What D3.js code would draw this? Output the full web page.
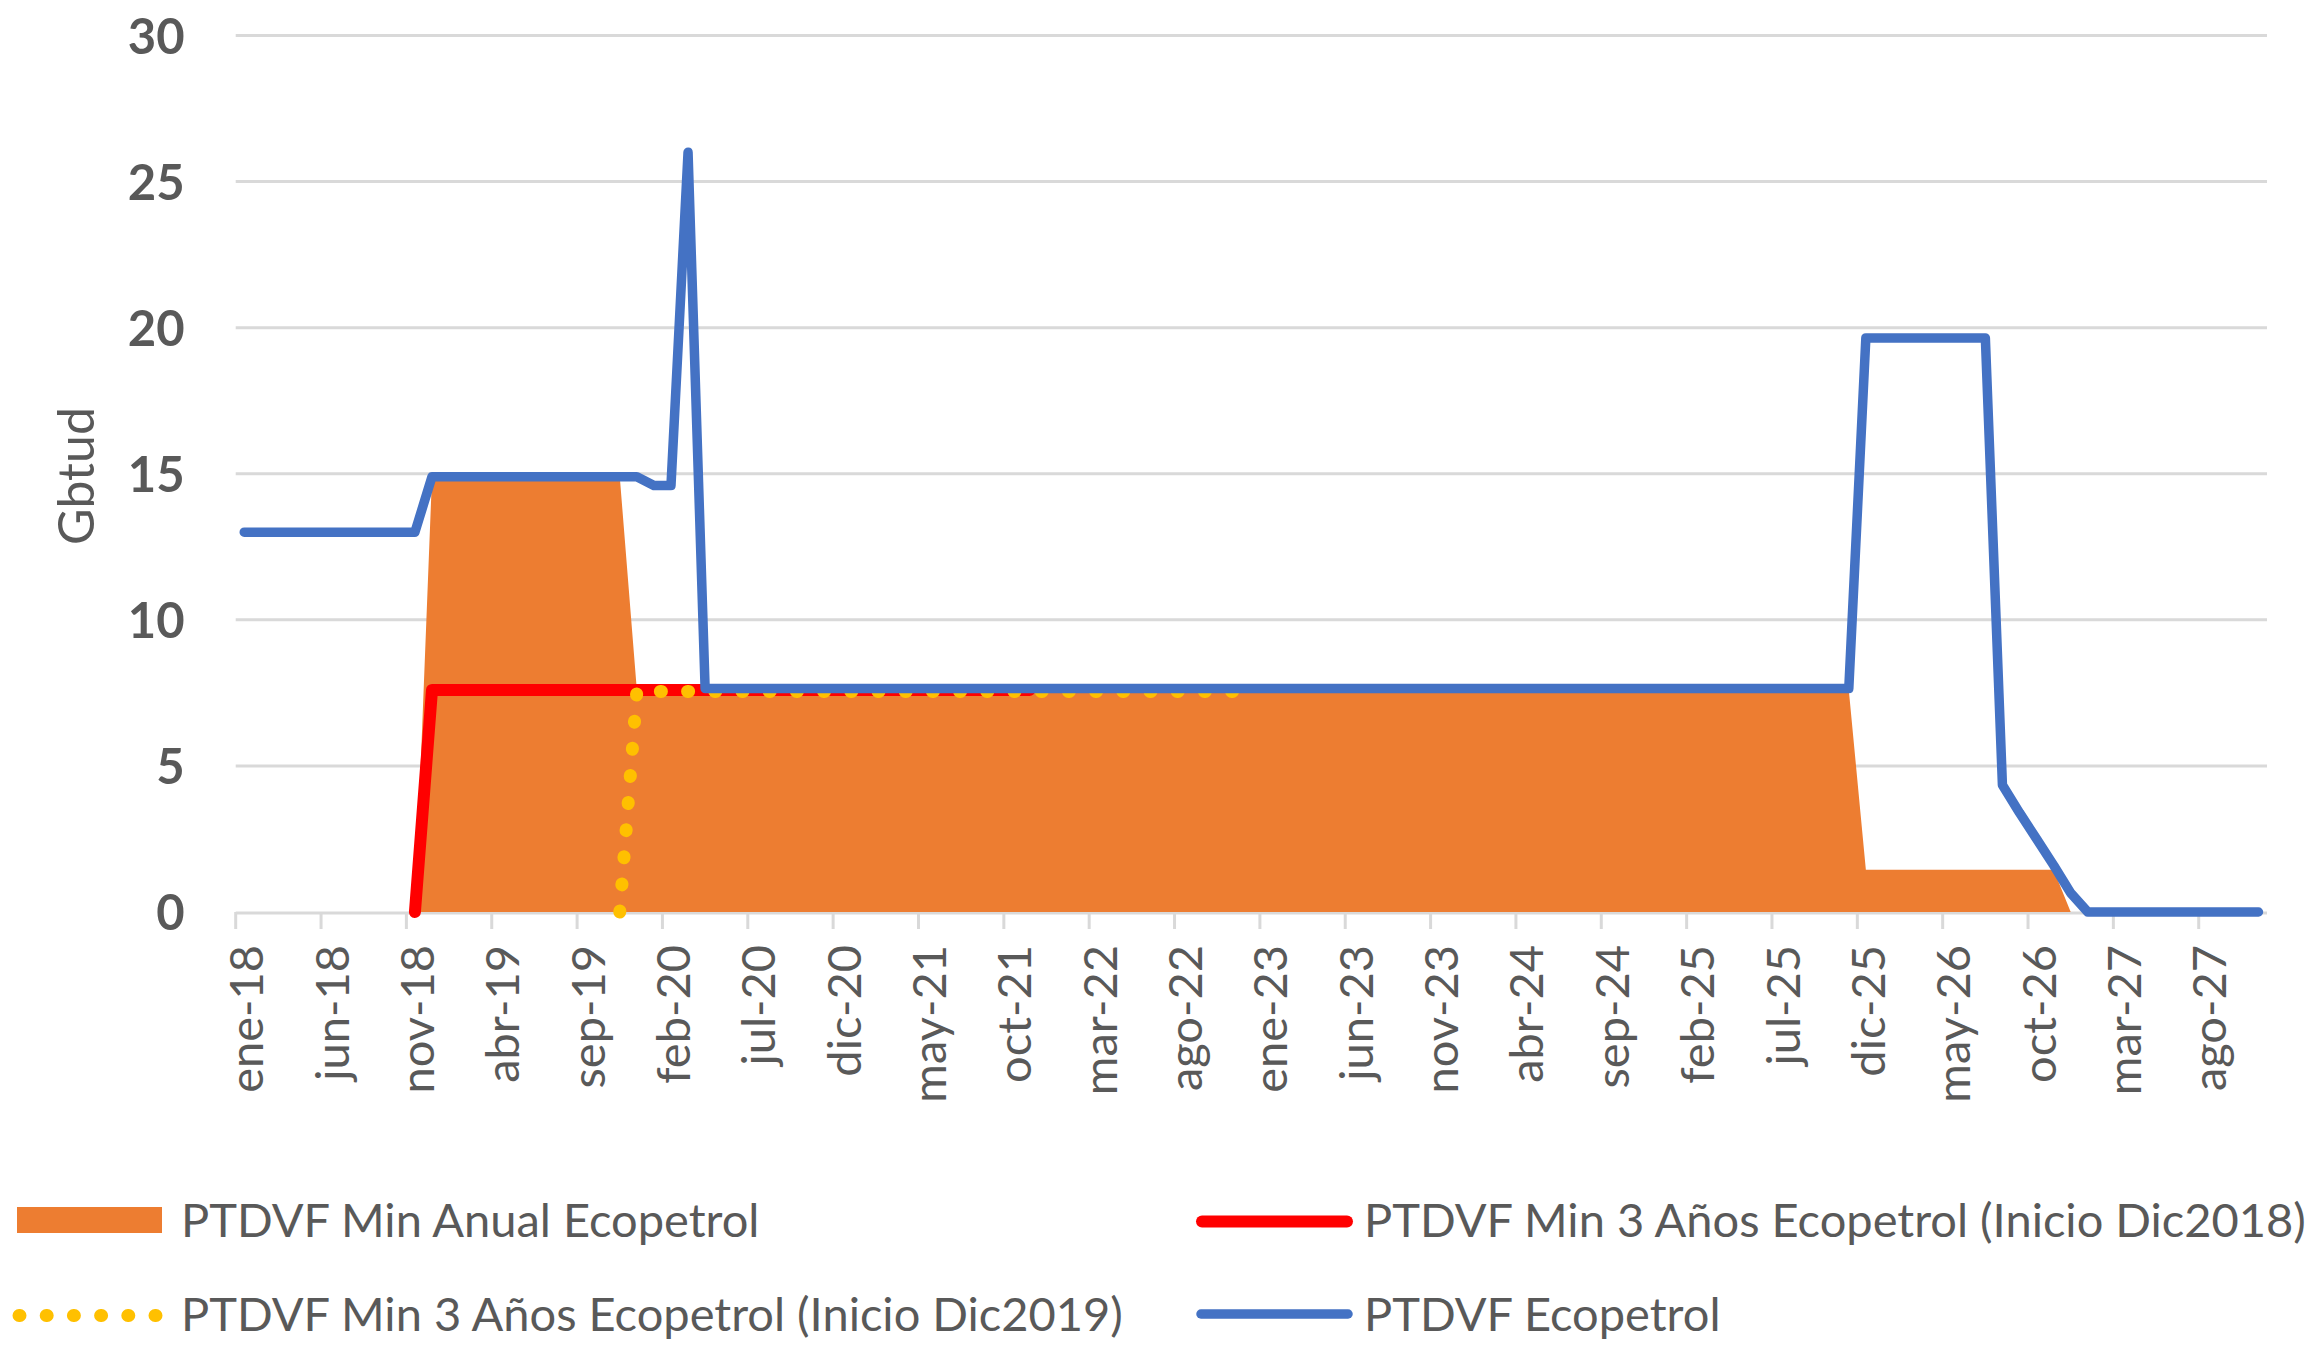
<!DOCTYPE html>
<html><head><meta charset="utf-8">
<script src="https://cdn.jsdelivr.net/npm/d3@7"></script>
<style>
html,body{margin:0;padding:0;background:#fff;}
svg{display:block;background:#fff;}
</style></head>
<body>
<svg id="chart" width="2306" height="1346"></svg>
<script>
// ---------- DATA ----------
const categories = [
 "ene-18","feb-18","mar-18","abr-18","may-18","jun-18","jul-18","ago-18","sep-18","oct-18","nov-18","dic-18",
 "ene-19","feb-19","mar-19","abr-19","may-19","jun-19","jul-19","ago-19","sep-19","oct-19","nov-19","dic-19",
 "ene-20","feb-20","mar-20","abr-20","may-20","jun-20","jul-20","ago-20","sep-20","oct-20","nov-20","dic-20",
 "ene-21","feb-21","mar-21","abr-21","may-21","jun-21","jul-21","ago-21","sep-21","oct-21","nov-21","dic-21",
 "ene-22","feb-22","mar-22","abr-22","may-22","jun-22","jul-22","ago-22","sep-22","oct-22","nov-22","dic-22",
 "ene-23","feb-23","mar-23","abr-23","may-23","jun-23","jul-23","ago-23","sep-23","oct-23","nov-23","dic-23",
 "ene-24","feb-24","mar-24","abr-24","may-24","jun-24","jul-24","ago-24","sep-24","oct-24","nov-24","dic-24",
 "ene-25","feb-25","mar-25","abr-25","may-25","jun-25","jul-25","ago-25","sep-25","oct-25","nov-25","dic-25",
 "ene-26","feb-26","mar-26","abr-26","may-26","jun-26","jul-26","ago-26","sep-26","oct-26","nov-26","dic-26",
 "ene-27","feb-27","mar-27","abr-27","may-27","jun-27","jul-27","ago-27","sep-27","oct-27","nov-27"
];

const tickLabels = ["ene-18","jun-18","nov-18","abr-19","sep-19","feb-20","jul-20","dic-20","may-21","oct-21",
 "mar-22","ago-22","ene-23","jun-23","nov-23","abr-24","sep-24","feb-25","jul-25","dic-25","may-26","oct-26",
 "mar-27","ago-27"];

const yTicks = [0, 5, 10, 15, 20, 25, 30];

const seriesNames = [
 "PTDVF Min Anual Ecopetrol",
 "PTDVF Min 3 Años Ecopetrol (Inicio Dic2018)",
 "PTDVF Min 3 Años Ecopetrol (Inicio Dic2019)",
 "PTDVF Ecopetrol"
];

// PTDVF Min Anual Ecopetrol (area)
const minAnual = [
 0,0,0,0,0,0,0,0,0,0,0,14.9,
 14.9,14.9,14.9,14.9,14.9,14.9,14.9,14.9,14.9,14.9,14.9,7.6,
 7.6,7.6,7.6,7.6,7.6,7.6,7.6,7.6,7.6,7.6,7.6,7.6,
 7.6,7.6,7.6,7.6,7.6,7.6,7.6,7.6,7.6,7.6,7.6,7.6,
 7.6,7.6,7.6,7.6,7.6,7.6,7.6,7.6,7.6,7.6,7.6,7.6,
 7.6,7.6,7.6,7.6,7.6,7.6,7.6,7.6,7.6,7.6,7.6,7.6,
 7.6,7.6,7.6,7.6,7.6,7.6,7.6,7.6,7.6,7.6,7.6,7.6,
 7.6,7.6,7.6,7.6,7.6,7.6,7.6,7.6,7.6,7.6,7.6,1.45,
 1.45,1.45,1.45,1.45,1.45,1.45,1.45,1.45,1.45,1.45,1.45,0,
 0,0,0,0,0,0,0,0,0,0,0
];

// PTDVF Min 3 Años Ecopetrol (Inicio Dic2018)
const min3Dic2018 = [
 null,null,null,null,null,null,null,null,null,null,0,7.6,
 7.6,7.6,7.6,7.6,7.6,7.6,7.6,7.6,7.6,7.6,7.6,7.6,
 7.6,7.6,7.6,7.6,7.6,7.6,7.6,7.6,7.6,7.6,7.6,7.6,
 7.6,7.6,7.6,7.6,7.6,7.6,7.6,7.6,7.6,7.6,7.6,null,
 null,null,null,null,null,null,null,null,null,null,null,null,
 null,null,null,null,null,null,null,null,null,null,null,null,
 null,null,null,null,null,null,null,null,null,null,null,null,
 null,null,null,null,null,null,null,null,null,null,null,null,
 null,null,null,null,null,null,null,null,null,null,null,null,
 null,null,null,null,null,null,null,null,null,null,null
];

// PTDVF Min 3 Años Ecopetrol (Inicio Dic2019)
const min3Dic2019 = [
 null,null,null,null,null,null,null,null,null,null,null,null,
 null,null,null,null,null,null,null,null,null,null,0,7.55,
 7.55,7.55,7.55,7.55,7.55,7.55,7.55,7.55,7.55,7.55,7.55,7.55,
 7.55,7.55,7.55,7.55,7.55,7.55,7.55,7.55,7.55,7.55,7.55,7.55,
 7.55,7.55,7.55,7.55,7.55,7.55,7.55,7.55,7.55,7.55,7.55,null,
 null,null,null,null,null,null,null,null,null,null,null,null,
 null,null,null,null,null,null,null,null,null,null,null,null,
 null,null,null,null,null,null,null,null,null,null,null,null,
 null,null,null,null,null,null,null,null,null,null,null,null,
 null,null,null,null,null,null,null,null,null,null,null
];

// PTDVF Ecopetrol
const ptdvf = [
 13,13,13,13,13,13,13,13,13,13,13,14.9,
 14.9,14.9,14.9,14.9,14.9,14.9,14.9,14.9,14.9,14.9,14.9,14.9,
 14.6,14.6,26,7.65,7.65,7.65,7.65,7.65,7.65,7.65,7.65,7.65,
 7.65,7.65,7.65,7.65,7.65,7.65,7.65,7.65,7.65,7.65,7.65,7.65,
 7.65,7.65,7.65,7.65,7.65,7.65,7.65,7.65,7.65,7.65,7.65,7.65,
 7.65,7.65,7.65,7.65,7.65,7.65,7.65,7.65,7.65,7.65,7.65,7.65,
 7.65,7.65,7.65,7.65,7.65,7.65,7.65,7.65,7.65,7.65,7.65,7.65,
 7.65,7.65,7.65,7.65,7.65,7.65,7.65,7.65,7.65,7.65,7.65,19.65,
 19.65,19.65,19.65,19.65,19.65,19.65,19.65,4.35,3.4,2.5,1.6,0.65,
 0,0,0,0,0,0,0,0,0,0,0
];

// ---------- DRAWING ----------
(function () {
const svg = d3.select("#chart");
const FONT = "Lato, 'Open Sans', 'Noto Sans', sans-serif";
const TXT = "#595959";
const GRID = "#d9d9d9";
const pLeft = 235.7, pRight = 2267, pTop = 35.5, pBottom = 912;

const x = d3.scaleBand().domain(categories).range([pLeft, pRight]).padding(0);
const y = d3.scaleLinear().domain([0, 30]).range([pBottom, pTop]);
const cx = (d, i) => x(categories[i]) + x.bandwidth() / 2;

// gridlines
svg.append("g").selectAll("line").data(yTicks.filter(v => v > 0)).join("line")
  .attr("x1", pLeft).attr("x2", pRight)
  .attr("y1", d => y(d)).attr("y2", d => y(d))
  .attr("stroke", GRID).attr("stroke-width", 3);

// category axis line + tick marks (at category boundaries)
svg.append("line").attr("x1", pLeft).attr("x2", pRight)
  .attr("y1", y(0) + 1).attr("y2", y(0) + 1)
  .attr("stroke", GRID).attr("stroke-width", 3);
svg.append("g").selectAll("line").data(tickLabels).join("line")
  .attr("x1", d => x(d)).attr("x2", d => x(d))
  .attr("y1", y(0)).attr("y2", y(0) + 17)
  .attr("stroke", GRID).attr("stroke-width", 3);

// area
const area = d3.area().x(cx).y0(y(0)).y1(d => y(d));
svg.append("path").datum(minAnual).attr("d", area).attr("fill", "#ED7D31");

// lines
const line = d3.line().defined(d => d !== null).x(cx).y(d => y(d));
svg.append("path").datum(min3Dic2018).attr("d", line)
  .attr("fill", "none").attr("stroke", "#FF0000").attr("stroke-width", 12)
  .attr("stroke-linejoin", "round").attr("stroke-linecap", "round");
svg.append("path").datum(min3Dic2019).attr("d", line)
  .attr("fill", "none").attr("stroke", "#FFC000").attr("stroke-width", 13)
  .attr("stroke-dasharray", "1 26.2").attr("stroke-linecap", "round");
svg.append("path").datum(ptdvf).attr("d", line)
  .attr("fill", "none").attr("stroke", "#4472C4").attr("stroke-width", 9.5)
  .attr("stroke-linejoin", "round").attr("stroke-linecap", "round");

// x axis labels
const gx = svg.append("g").attr("transform", `translate(0,${pBottom})`)
  .call(d3.axisBottom(x).tickValues(tickLabels).tickSize(0).tickPadding(0));
gx.select(".domain").remove();
gx.selectAll(".tick line").remove();
gx.selectAll("text")
  .attr("x", 0).attr("y", 0).attr("dy", 0)
  .attr("transform", "translate(19,33) rotate(-90)")
  .attr("text-anchor", "end")
  .attr("fill", TXT)
  .style("font-family", FONT).style("font-size", "47px");

// y axis labels
const gy = svg.append("g").attr("transform", `translate(${pLeft},0)`)
  .call(d3.axisLeft(y).tickValues(yTicks).tickSize(0).tickPadding(51));
gy.select(".domain").remove();
gy.selectAll("text")
  .attr("dy", "0.36em").attr("fill", TXT)
  .style("font-family", FONT).style("font-size", "49px").style("font-weight", "700");

// y axis title
svg.append("text").attr("transform", "translate(94,476) rotate(-90)")
  .attr("text-anchor", "middle").attr("fill", TXT)
  .style("font-family", FONT).style("font-size", "50px")
  .text("Gbtud");

// ---------- LEGEND ----------
const lg = svg.append("g");
lg.append("rect").attr("x", 17).attr("y", 1207).attr("width", 145).attr("height", 26).attr("fill", "#ED7D31");
lg.append("line").attr("x1", 1202).attr("x2", 1347).attr("y1", 1221.5).attr("y2", 1221.5)
  .attr("stroke", "#FF0000").attr("stroke-width", 12).attr("stroke-linecap", "round");
lg.append("line").attr("x1", 19).attr("x2", 160).attr("y1", 1315.5).attr("y2", 1315.5)
  .attr("stroke", "#FFC000").attr("stroke-width", 13).attr("stroke-dasharray", "1 26.2").attr("stroke-linecap", "round");
lg.append("line").attr("x1", 1201).attr("x2", 1348).attr("y1", 1314).attr("y2", 1314)
  .attr("stroke", "#4472C4").attr("stroke-width", 9.5).attr("stroke-linecap", "round");

const legendPos = [[181, 1237], [1364, 1237], [181, 1331], [1364, 1331]];
lg.selectAll("text.lab").data(seriesNames).join("text").attr("class", "lab")
  .attr("x", (d, i) => legendPos[i][0]).attr("y", (d, i) => legendPos[i][1])
  .attr("fill", TXT).style("font-family", FONT).style("font-size", "47px")
  .text(d => d);
})();
</script>
</body></html>
